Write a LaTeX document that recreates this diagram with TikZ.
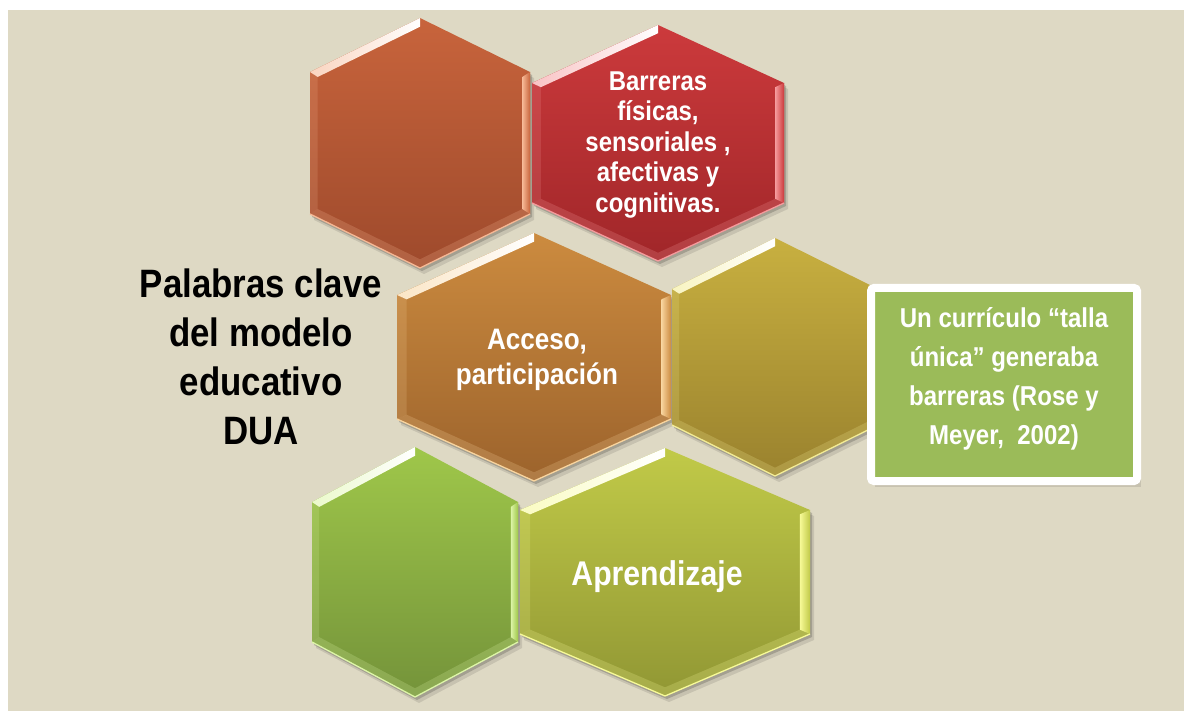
\documentclass[tikz,border=0pt]{standalone}
\usepackage{fontspec}
\setmainfont{Liberation Sans}[FakeStretch=0.88]
\usetikzlibrary{calc}
\definecolor{bg}{HTML}{DED9C4}
\definecolor{boxgreen}{HTML}{9BBB59}
\definecolor{orT}{HTML}{C8643C}\definecolor{orB}{HTML}{9E4A2C}\definecolor{orL}{HTML}{F6B895}
\definecolor{reT}{HTML}{CC3A3C}\definecolor{reB}{HTML}{A02629}\definecolor{reL}{HTML}{F59A9C}
\definecolor{acT}{HTML}{CC8B3F}\definecolor{acB}{HTML}{9C632C}\definecolor{acL}{HTML}{F8D49E}
\definecolor{olT}{HTML}{C8B040}\definecolor{olB}{HTML}{9A822E}\definecolor{olL}{HTML}{F3EC96}
\definecolor{grT}{HTML}{9FC74A}\definecolor{grB}{HTML}{74933A}\definecolor{grL}{HTML}{DDF5A8}
\definecolor{apT}{HTML}{C1CA48}\definecolor{apB}{HTML}{919734}\definecolor{apL}{HTML}{F7FA98}
\newcommand{\hexcell}[9]{%
% #1 name, #2 cx, #3 cy, #4 half width, #5 half height, #6 side offset, #7 top, #8 bottom, #9 light
\coordinate (#1c) at (#2,#3);
\coordinate (#1t) at (#2,#3-#5);
\coordinate (#1ur) at (#2+#4,#3-#6);
\coordinate (#1lr) at (#2+#4,#3+#6);
\coordinate (#1b) at (#2,#3+#5);
\coordinate (#1ll) at (#2-#4,#3+#6);
\coordinate (#1ul) at (#2-#4,#3-#6);
\coordinate (#1it) at ($(#1c)!0.93!(#1t)$);
\coordinate (#1iur) at ($(#1c)!0.93!(#1ur)$);
\coordinate (#1ilr) at ($(#1c)!0.93!(#1lr)$);
\coordinate (#1ib) at ($(#1c)!0.93!(#1b)$);
\coordinate (#1ill) at ($(#1c)!0.93!(#1ll)$);
\coordinate (#1iul) at ($(#1c)!0.93!(#1ul)$);
\fill[black,opacity=.10] (#2+4,#3-#5+6) -- (#2+#4+4,#3-#6+6) -- (#2+#4+4,#3+#6+6) -- (#2+4,#3+#5+6) -- (#2-#4+4,#3+#6+6) -- (#2-#4+4,#3-#6+6) -- cycle;
\fill[black,opacity=.18] (#2+2,#3-#5+3) -- (#2+#4+2,#3-#6+3) -- (#2+#4+2,#3+#6+3) -- (#2+2,#3+#5+3) -- (#2-#4+2,#3+#6+3) -- (#2-#4+2,#3-#6+3) -- cycle;
\shade[top color=#7, bottom color=#8] (#1t) -- (#1ur) -- (#1lr) -- (#1b) -- (#1ll) -- (#1ul) -- cycle;
\fill[#9, opacity=.18] (#1ul) -- (#1iul) -- (#1ill) -- (#1ll) -- cycle;
\shade[left color=#9, right color=#7] (#1ur) -- (#1lr) -- (#1ilr) -- (#1iur) -- cycle;
\fill[#9, opacity=.22] (#1ll) -- (#1b) -- (#1lr) -- (#1ilr) -- (#1ib) -- (#1ill) -- cycle;
\shade[left color=#9!60!white, right color=white] (#1ul) -- (#1t) -- (#1it) -- (#1iul) -- cycle;
\draw[#9, line width=1.3pt] (#1ll) -- (#1b) -- (#1lr);
}
\tikzset{
  hextext/.style={text=white, align=center, inner sep=0pt},
}
\begin{document}
\begin{tikzpicture}[x=1pt,y=-1pt]
\useasboundingbox (0,0) rectangle (1184,711);
\fill[white] (0,0) rectangle (1184,711);
\fill[bg] (8,10) rectangle (1184,711);

\hexcell{or}{420}{143}{110}{125}{71}{orT}{orB}{orL}
\hexcell{re}{658}{143}{126}{118}{60}{reT}{reB}{reL}
\hexcell{ac}{534}{357}{137}{124}{62}{acT}{acB}{acL}
\hexcell{ol}{775}{357}{103}{119}{68}{olT}{olB}{olL}
\hexcell{gr}{415}{572}{103}{125}{70}{grT}{grB}{grL}
\hexcell{ap}{665}{572}{145}{124}{62}{apT}{apB}{apL}

\node[hextext, font=\bfseries\fontsize{27.2}{30.5}\selectfont] (barreras) at (658,145)
  {Barreras\\físicas,\\sensoriales ,\\afectivas y\\cognitivas.};
\node[hextext, font=\bfseries\fontsize{29.6}{35}\selectfont] (acceso) at (537,360)
  {Acceso,\\participación};
\node[hextext, font=\bfseries\fontsize{34.3}{40}\selectfont, anchor=base] (aprendizaje) at (657,585)
  {Aprendizaje};
\node[text=black, align=center, inner sep=0pt, font=\bfseries\fontsize{39.6}{49}\selectfont] (titulo) at (261,357)
  {Palabras clave\\del modelo\\educativo\\DUA};

\fill[black,opacity=.10] (871+4,288+6) rectangle (1137+4,481+6);
\fill[black,opacity=.18] (871+2,288+3) rectangle (1137+2,481+3);
\node[draw=white, line width=8pt, fill=boxgreen, rounded corners=3pt, minimum width=266pt, minimum height=193pt, inner sep=0pt] (box) at (1004,384.5) {};
\node[hextext, font=\bfseries\fontsize{27.3}{39}\selectfont] (boxtext) at (1004,379)
  {Un currículo “talla\\única” generaba\\barreras (Rose y\\Meyer,~ 2002)};
\end{tikzpicture}
\end{document}
